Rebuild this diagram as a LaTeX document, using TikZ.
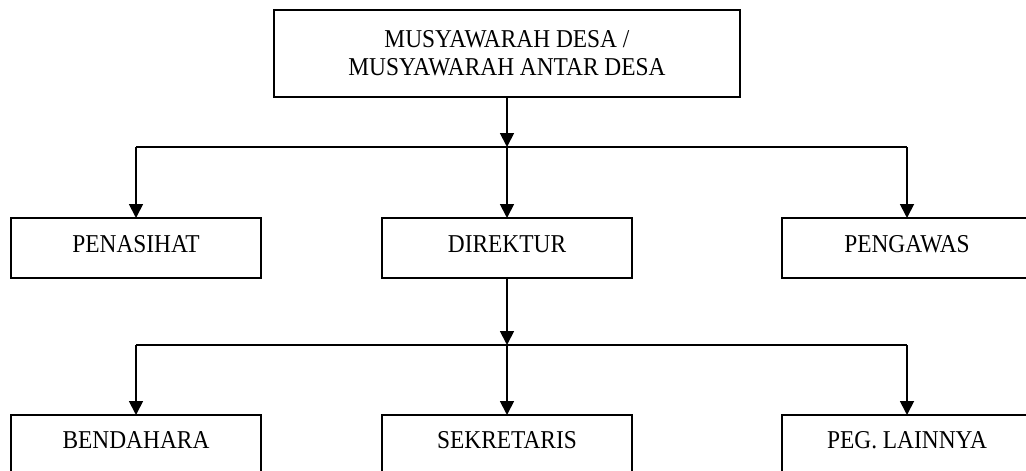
\documentclass[tikz,border=0pt]{standalone}
\usepackage{fontspec}
\setmainfont{Liberation Serif}[FakeStretch=0.91]
\usetikzlibrary{arrows.meta}
\begin{document}
\begin{tikzpicture}[x=1pt,y=-1pt,
  box/.style={draw,line width=1.8pt,inner sep=0pt,outer sep=0pt,minimum width=250pt,font=\fontsize{25.7}{28}\selectfont},
  midbox/.style={box,text height=34pt,text depth=26pt},
  lowbox/.style={box,text height=33pt,text depth=40pt},
  conn/.style={line width=1.8pt},
  arr/.style={conn,-{Triangle[length=14pt,width=14pt]}}]
\useasboundingbox (0,0) rectangle (1026,471);
\clip (0,0) rectangle (1026,471);
\node[box,minimum width=466pt,minimum height=87pt,align=center] (top) at (507,53.5) {MUSYAWARAH DESA /\\MUSYAWARAH ANTAR DESA};
\node[midbox,anchor=north] (pen) at (136,218) {PENASIHAT};
\node[midbox,anchor=north] (dir) at (507,218) {DIREKTUR};
\node[midbox,anchor=north] (pew) at (907,218) {PENGAWAS};
\node[lowbox,anchor=north] (ben) at (136,415) {BENDAHARA};
\node[lowbox,anchor=north] (sek) at (507,415) {SEKRETARIS};
\node[lowbox,anchor=north] (peg) at (907,415) {PEG. LAINNYA};
\coordinate (j1) at (507,147);
\coordinate (j2) at (507,345);
\draw[arr] (top.south) -- (j1);
\draw[conn] (pen.north |- j1) -- (pew.north |- j1);
\draw[arr] (pen.north |- j1) -- (pen.north);
\draw[arr] (j1) -- (dir.north);
\draw[arr] (pew.north |- j1) -- (pew.north);
\draw[arr] (dir.south) -- (j2);
\draw[conn] (ben.north |- j2) -- (peg.north |- j2);
\draw[arr] (ben.north |- j2) -- (ben.north);
\draw[arr] (j2) -- (sek.north);
\draw[arr] (peg.north |- j2) -- (peg.north);
\end{tikzpicture}
\end{document}
